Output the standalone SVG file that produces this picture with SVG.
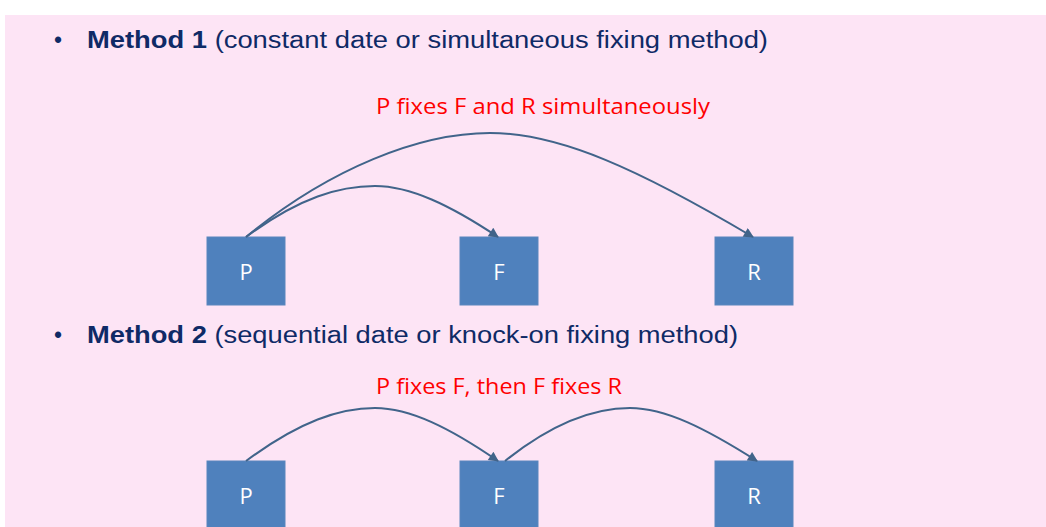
<svg xmlns="http://www.w3.org/2000/svg" width="1046" height="527" viewBox="0 0 1046 527">
<style>
.head{font-family:"Liberation Sans",Arial,sans-serif;font-size:23px;fill:#0f2a66}
.head .b{font-weight:bold}
.red{font-family:"Open Sans","Liberation Sans",sans-serif;font-size:22px;fill:#ff0000}
.box{fill:#4f81bd;stroke:#5a86bd;stroke-width:1}
.lbl{font-family:"Open Sans","Liberation Sans",sans-serif;font-size:22px;fill:#ffffff;text-anchor:middle}
.arc{fill:none;stroke:#41648a;stroke-width:2;marker-end:url(#ah)}
</style>
<defs>
<marker id="ah" viewBox="0 0 10 10" refX="9" refY="5" markerWidth="12" markerHeight="10" orient="auto" markerUnits="userSpaceOnUse">
<path d="M0,0 L10,5 L0,10 z" fill="#41648a"/>
</marker>
</defs>
<rect x="0" y="0" width="1046" height="527" fill="#ffffff"/>
<rect x="5" y="15" width="1041" height="512" fill="#fde4f5"/>
<text class="head" x="54" y="48">•</text>
<text class="head" x="87" y="48" textLength="681" lengthAdjust="spacingAndGlyphs"><tspan class="b">Method 1</tspan> (constant date or simultaneous fixing method)</text>
<text class="red" x="376" y="114" textLength="334" lengthAdjust="spacingAndGlyphs">P fixes F and R simultaneously</text>
<text class="head" x="54" y="343">•</text>
<text class="head" x="87" y="343" textLength="651" lengthAdjust="spacingAndGlyphs"><tspan class="b">Method 2</tspan> (sequential date or knock-on fixing method)</text>
<text class="red" x="376" y="394" textLength="246" lengthAdjust="spacingAndGlyphs">P fixes F, then F fixes R</text>
<g id="m1-P"><rect class="box" x="207" y="237" width="78" height="68"/><text class="lbl" x="246" y="280">P</text></g>
<g id="m1-F"><rect class="box" x="460" y="237" width="78" height="68"/><text class="lbl" x="499" y="280">F</text></g>
<g id="m1-R"><rect class="box" x="715" y="237" width="78" height="68"/><text class="lbl" x="754" y="280">R</text></g>
<g id="m2-P"><rect class="box" x="207" y="461" width="78" height="70"/><text class="lbl" x="246" y="504">P</text></g>
<g id="m2-F"><rect class="box" x="460" y="461" width="78" height="70"/><text class="lbl" x="499" y="504">F</text></g>
<g id="m2-R"><rect class="box" x="715" y="461" width="78" height="70"/><text class="lbl" x="754" y="504">R</text></g>
<g id="connectors">
<path class="arc" d="M246,237 C300,197 340,186 375,186 C410,186 450,205 498,237"/>
<path class="arc" d="M246,237 C330,168 420,133 490,133 C560,133 640,170 753,237"/>
<path class="arc" d="M246,461 C300,421 340,408 375,408 C410,408 450,428 498,461"/>
<path class="arc" d="M505,461 C555,421 595,408 630,408 C665,408 705,428 757,461"/>
</g>
</svg>
